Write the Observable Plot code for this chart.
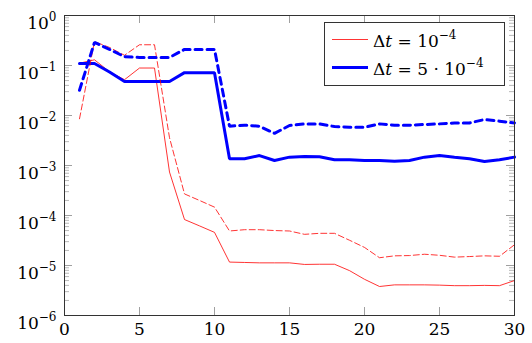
<!DOCTYPE html>
<html>
<head>
<meta charset="utf-8">
<script src="https://cdn.jsdelivr.net/npm/d3@7"></script>
<script src="https://cdn.jsdelivr.net/npm/@observablehq/plot@0.6"></script>
<style>
  body { margin: 0; background: #fff; }
  #chart { position: relative; width: 532px; height: 343px; font-family: "DejaVu Serif", serif; }
  #legend { position: absolute; left: 324px; top: 22px; }
  #chart svg text { font-family: "DejaVu Serif", serif; }
</style>
</head>
<body>
<div id="chart"></div>
<script>
// Iteration index
const steps = d3.range(1, 31);

// Error per iteration, dt = 1e-4 (solid and dashed variants)
const errSmallSolid = [0.111, 0.13, 0.075, 0.052, 0.089, 0.089, 7.4e-4, 8.3e-5, 6.2e-5, 4.6e-5,
  1.17e-5, 1.15e-5, 1.13e-5, 1.13e-5, 1.13e-5, 1.05e-5, 1.06e-5, 1.06e-5, 7.9e-6, 5.3e-6,
  3.8e-6, 4.1e-6, 4.1e-6, 4.1e-6, 4.05e-6, 3.95e-6, 3.95e-6, 4.0e-6, 3.95e-6, 5.0e-6];
const errSmallDashed = [0.0086, 0.3, 0.23, 0.16, 0.26, 0.26, 0.0036, 2.7e-4, 2.0e-4, 1.47e-4,
  4.9e-5, 5.2e-5, 5.2e-5, 5.0e-5, 4.9e-5, 4.2e-5, 4.4e-5, 4.4e-5, 3.2e-5, 2.3e-5,
  1.43e-5, 1.56e-5, 1.58e-5, 1.68e-5, 1.6e-5, 1.47e-5, 1.51e-5, 1.56e-5, 1.53e-5, 2.6e-5];

// Error per iteration, dt = 5e-4 (solid and dashed variants)
const errLargeSolid = [0.11, 0.11, 0.074, 0.048, 0.048, 0.048, 0.048, 0.072, 0.072, 0.072,
  0.00137, 0.00137, 0.00158, 0.00126, 0.00147, 0.00151, 0.0015, 0.0013, 0.0013, 0.00126,
  0.00126, 0.00122, 0.00126, 0.00147, 0.00158, 0.00147, 0.00137, 0.0012, 0.0013, 0.00147];
const errLargeDashed = [0.032, 0.29, 0.21, 0.15, 0.145, 0.145, 0.145, 0.21, 0.21, 0.21,
  0.0061, 0.0064, 0.0061, 0.0044, 0.0063, 0.0068, 0.0068, 0.006, 0.0058, 0.0058,
  0.0068, 0.0064, 0.0064, 0.0066, 0.0068, 0.0071, 0.0071, 0.0083, 0.0077, 0.0071];

// Axis ticks
const xTicks = [0, 5, 10, 15, 20, 25, 30];
const yExponents = [0, -1, -2, -3, -4, -5, -6];
const yMajor = yExponents.map(e => Math.pow(10, e));
const yMinor = d3.range(-6, 0).flatMap(e => d3.range(2, 10).map(m => m * Math.pow(10, e)));

// Legend labels
const legendItems = [
  {base: "10", exp: "−4", prefix: "", color: "red", width: 0.8},
  {base: "10", exp: "−4", prefix: "5 · ", color: "blue", width: 3}
];

const toRows = ys => steps.map((s, i) => ({step: s, err: ys[i]}));

const W = 532, H = 343, ML = 64, MR = 18, MT = 15, MB = 28;
const plotW = W - ML - MR, plotH = H - MT - MB;
const tickColor = "#888";
const serif = '"DejaVu Serif", serif';
const baseSize = 17, supSize = 12;

const chart = Plot.plot({
  width: W, height: H,
  marginLeft: ML, marginRight: MR, marginTop: MT, marginBottom: MB,
  style: {fontFamily: serif, fontSize: baseSize + "px", background: "white", color: "black"},
  x: {domain: [0, 30]},
  y: {type: "log", domain: [1e-6, 1]},
  marks: [
    Plot.axisX({ticks: xTicks, tickSize: 0, tickPadding: 7, tickFormat: d => String(d), label: null}),
    Plot.axisY({ticks: yMajor, tickSize: 0, tickPadding: 8,
      tickFormat: d => String(Math.round(Math.log10(d))).replace("-", "−"), label: null}),
    // inward ticks on all four sides
    Plot.tickX(xTicks, {x: d => d, stroke: tickColor, strokeWidth: 0.8, insetTop: plotH - 8}),
    Plot.tickX(xTicks, {x: d => d, stroke: tickColor, strokeWidth: 0.8, insetBottom: plotH - 8}),
    Plot.tickY(yMajor, {y: d => d, stroke: tickColor, strokeWidth: 0.8, insetRight: plotW - 8}),
    Plot.tickY(yMajor, {y: d => d, stroke: tickColor, strokeWidth: 0.8, insetLeft: plotW - 8}),
    Plot.tickY(yMinor, {y: d => d, stroke: tickColor, strokeWidth: 0.6, insetRight: plotW - 5}),
    Plot.tickY(yMinor, {y: d => d, stroke: tickColor, strokeWidth: 0.6, insetLeft: plotW - 5}),
    // error curves
    Plot.line(toRows(errSmallSolid), {x: "step", y: "err", stroke: "red", strokeWidth: 0.8, strokeLinejoin: "miter"}),
    Plot.line(toRows(errLargeSolid), {x: "step", y: "err", stroke: "blue", strokeWidth: 3, strokeLinejoin: "miter"}),
    Plot.line(toRows(errSmallDashed), {x: "step", y: "err", stroke: "red", strokeWidth: 0.8, strokeDasharray: "6,3", strokeLinejoin: "miter"}),
    Plot.line(toRows(errLargeDashed), {x: "step", y: "err", stroke: "blue", strokeWidth: 3, strokeDasharray: "7,5", strokeLinejoin: "miter"}),
    Plot.frame({stroke: "#333", strokeWidth: 1})
  ]
});

// Render y tick labels as powers of ten: "10" with a raised exponent
d3.select(chart).selectAll('g[aria-label="y-axis tick label"] text').each(function() {
  const exp = this.textContent;
  const t = d3.select(this);
  t.text("10").attr("dy", "0.5em");
  t.append("tspan").attr("dy", -8).attr("font-size", supSize).text(exp);
});

const root = document.getElementById("chart");
root.appendChild(chart);

// Legend box in the upper right of the frame
const lg = d3.select(root).append("svg").attr("id", "legend")
  .attr("width", 181).attr("height", 64);
lg.append("rect").attr("x", 0.5).attr("y", 0.5).attr("width", 180).attr("height", 63)
  .attr("fill", "white").attr("stroke", "#333").attr("stroke-width", 1);
legendItems.forEach((item, i) => {
  const ly = 17.5 + i * 28;
  lg.append("line").attr("x1", 8).attr("x2", 44).attr("y1", ly).attr("y2", ly)
    .attr("stroke", item.color).attr("stroke-width", item.width);
  const txt = lg.append("text").attr("x", 49).attr("y", ly + 7)
    .attr("font-family", serif).attr("font-size", baseSize);
  txt.append("tspan").text("Δ");
  txt.append("tspan").attr("font-style", "italic").text("t");
  txt.append("tspan").text(" = " + item.prefix + item.base);
  txt.append("tspan").attr("dy", -8).attr("font-size", supSize).text(item.exp);
});
</script>
</body>
</html>
